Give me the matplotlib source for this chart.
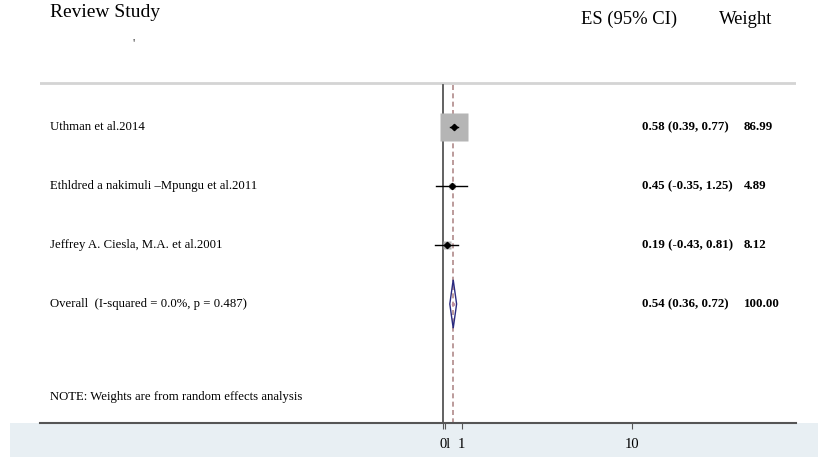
import matplotlib
matplotlib.use('Agg')
import matplotlib.pyplot as plt
import matplotlib.transforms as mtransforms
from matplotlib.patches import Rectangle

plt.rcParams['font.family'] = 'Liberation Serif'

# data
studies = ['Uthman et al.2014',
           'Ethldred a nakimuli \u2013Mpungu et al.2011',
           'Jeffrey A. Ciesla, M.A. et al.2001']
es = [0.58, 0.45, 0.19]
ci_lo = [0.39, -0.35, -0.43]
ci_hi = [0.77, 1.25, 0.81]
weights = [86.99, 4.89, 8.12]

overall_label = 'Overall  (I-squared = 0.0%, p = 0.487)'
overall_es = 0.54
overall_lo = 0.36
overall_hi = 0.72
overall_weight = 100.00

note = 'NOTE: Weights are from random effects analysis'
tick_vals = [0, 0.1, 1, 10]
tick_labels = ['', '0l', '1', '10']

W, H = 829, 458


def fx(px):
    return px / W


def fy(py):
    return 1 - py / H


fig = plt.figure(figsize=(W / 100, H / 100), dpi=100)
fig.patch.set_facecolor('white')

# light band behind the axis labels
fig.patches.append(Rectangle((fx(10), fy(457)), fx(818) - fx(10), fy(423) - fy(457),
                             transform=fig.transFigure, facecolor='#e8eff3',
                             edgecolor='none', zorder=-5))

ax = fig.add_axes([fx(40), fy(422.7), fx(796) - fx(40), fy(0) - fy(422.7)])
ax.set_zorder(2)
ax.patch.set_alpha(0)
x0, scale = 443.0, 18.9
ax.set_xlim((40 - x0) / scale, (796 - x0) / scale)
row0, step = 127.0, 59.0
ybot = (422.7 - row0) / step
ax.set_ylim(ybot, -row0 / step)
for s in ['top', 'left', 'right']:
    ax.spines[s].set_visible(False)
ax.spines['bottom'].set_color('#555555')
ax.spines['bottom'].set_linewidth(1.5)
ax.set_yticks([])
ax.set_xticks(tick_vals)
ax.set_xticklabels(tick_labels, fontsize=10.5)
ax.tick_params(axis='x', length=4, width=0.8, color='#555555', pad=7)

ytop = (85 - row0) / step
# header separator
ax.axhline((82.7 - row0) / step, color='#d4d4d4', lw=2)
# null line and overall line
ax.plot([0, 0], [ytop, ybot], color='#555555', lw=1.3)
ax.plot([overall_es, overall_es], [ytop, ybot], color='#b08a8a', lw=1.2,
        dashes=(3, 2))

rows = list(range(len(studies)))
for i in rows:
    ms = 20.2 * (weights[i] / max(weights)) ** 0.5
    ax.plot(es[i], i, marker='s', ms=ms, color='#b5b5b5', mec='none', zorder=2)
    ax.plot([ci_lo[i], ci_hi[i]], [i, i], color='black', lw=1, zorder=3)
    ax.plot(es[i], i, marker='D', ms=3.2, color='black', zorder=4)

r = len(studies)
ax.fill([overall_lo, overall_es, overall_hi, overall_es],
        [r, r - 0.41, r, r + 0.41], fill=False, edgecolor='#2a2a80', lw=1,
        zorder=3)
ax.plot(overall_es, r, marker='o', ms=1.5, color='#c090a0', zorder=4)

trans = mtransforms.blended_transform_factory(fig.transFigure, ax.transData)
for i in rows:
    ax.text(fx(50), i, studies[i], transform=trans, fontsize=9.2,
            va='center', ha='left')
    ax.text(fx(642), i, '%.2f (%.2f, %.2f)' % (es[i], ci_lo[i], ci_hi[i]),
            transform=trans, fontsize=9.3, fontweight='bold', va='center')
    ax.text(fx(744), i, '%.2f' % weights[i], transform=trans, fontsize=9.3,
            fontweight='bold', va='center')
ax.text(fx(50), r, overall_label, transform=trans, fontsize=9.2, va='center')
ax.text(fx(642), r, '%.2f (%.2f, %.2f)' % (overall_es, overall_lo, overall_hi),
        transform=trans, fontsize=9.3, fontweight='bold', va='center')
ax.text(fx(744), r, '%.2f' % overall_weight, transform=trans, fontsize=9.3,
        fontweight='bold', va='center')
ax.text(fx(50), (397 - row0) / step, note, transform=trans, fontsize=9.2,
        va='center')

# headers
fig.text(fx(50), fy(17), 'Review Study', fontsize=14, va='baseline')
fig.text(fx(677), fy(24), 'ES (95% CI)', fontsize=13.4, va='baseline', ha='right')
fig.text(fx(719), fy(24), 'Weight', fontsize=13.4, va='baseline')
fig.text(fx(134), fy(44), "'", fontsize=9, color='#333333', va='center',
         ha='center')

fig.savefig('out.png', dpi=100)
